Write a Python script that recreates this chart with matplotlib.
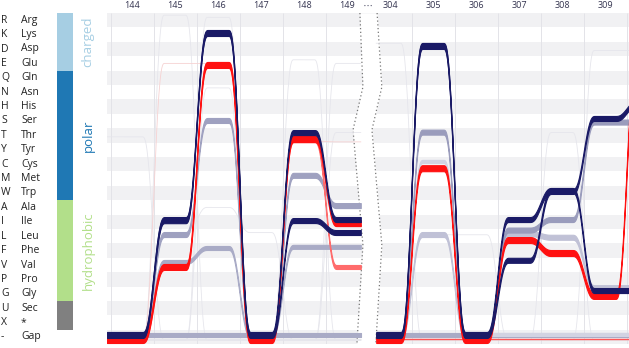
import numpy as np
import matplotlib
matplotlib.use("Agg")
import matplotlib.pyplot as plt
from matplotlib.transforms import blended_transform_factory

plt.rcParams['font.family'] = ['Open Sans', 'DejaVu Sans']

# ---------------- data ----------------
codes = ['R', 'K', 'D', 'E', 'Q', 'N', 'H', 'S', 'T', 'Y', 'C', 'M', 'W',
         'A', 'I', 'L', 'F', 'V', 'P', 'G', 'U', 'X', '-']
names = ['Arg', 'Lys', 'Asp', 'Glu', 'Gln', 'Asn', 'His', 'Ser', 'Thr', 'Tyr',
         'Cys', 'Met', 'Trp', 'Ala', 'Ile', 'Leu', 'Phe', 'Val', 'Pro', 'Gly',
         'Sec', '*', 'Gap']
cat_names = ['charged', 'polar', 'hydrophobic', '']
cat_start = [0, 4, 13, 20]
cat_size = [4, 9, 7, 2]
cat_colors = ['#a6cee3', '#1f78b4', '#b2df8a', '#808080']

left_labels = ['144', '145', '146', '147', '148', '149']
right_labels = ['304', '305', '306', '307', '308', '309']
left_cols = [0, 1, 2, 3, 4, 5]
right_cols = [6, 7, 8, 9, 10, 11, 12]   # 12 = next (hidden) column 310

# ribbon paths: row position (top edge, in rows) per column
navy_a = [21.65, 13.67, 0.68, 21.65, 7.63, 13.67]
navy_b = [21.72, 13.75, 0.75, 21.72, 13.74, 14.57]
red_a = [22.0, 16.93, 2.90, 22.0, 8.04, 13.88]
red_b = [22.05, 17.0, 2.95, 22.05, 8.20, 17.0]
gray_a = [21.72, 14.71, 6.79, 21.72, 10.6, 12.70]
gray_b = [21.72, 16.65, 15.68, 21.72, 15.6, 15.6]
gap_left = [21.72, 21.72, 21.72, 21.72, 21.72, 21.72]

navy_c = [21.65, 1.58, 21.65, 13.67, 11.65, 18.6, 18.6]
navy_d = [21.72, 1.65, 21.72, 16.5, 11.72, 6.65, 5.6]
red_c = [22.0, 10.07, 22.0, 15.06, 15.96, 18.94, 2.0]
gray_c = [21.72, 7.60, 21.72, 14.40, 13.67, 6.90, 6.9]
gray_d = [21.72, 14.71, 21.72, 14.65, 14.9, 18.4, 18.4]
gray_e = [21.72, 9.70, 21.72, 21.72, 21.72, 21.72, 21.72]
gap_right = [21.72, 21.72, 21.72, 21.72, 21.72, 21.72, 21.72]
red_gap = [22.15, 22.15, 22.15, 22.15, 22.15, 22.15, 22.15]

faint_left = [
    [8.1, 22.2, 22.2, 22.2, 22.2, 22.2],
    [22.2, -0.35, 22.2, 22.2, 22.2, 22.2],
    [22.2, 22.2, -0.2, 22.2, 22.2, 22.2],
    [22.2, 22.2, 4.7, 22.2, 22.2, 22.2],
    [22.2, 22.2, 22.2, 22.2, 2.75, 22.2],
    [22.2, 22.2, 22.2, 22.2, 22.2, 3.0],
    [22.2, 22.2, 22.2, 22.2, 22.2, 7.8],
    [22.2, 14.9, 13.0, 14.75, 22.2, 22.2],
]
pink_left = [22.2, 3.0, 3.0, 22.2, 8.4, 8.45]
faint_right = [
    [1.6, 22.2, 22.2, 22.2, 22.2, 22.2, 22.2],
    [22.2, 22.2, 22.2, 22.2, 7.8, 22.2, 22.2],
    [22.2, 22.2, 22.2, 22.2, 22.2, 2.1, 2.1],
    [22.2, 14.9, 14.9, 22.2, 22.2, 22.2, 22.2],
]

# ---------------- helpers ----------------
def path_xy(cols, vals, x0, x1, h=0.24, n=40):
    t = np.linspace(0, 1, n)
    s = t ** 3 * (t * (6 * t - 15) + 10)
    xs, ys = [], []
    for i in range(len(vals)):
        c, v = cols[i], vals[i]
        a = x0 if i == 0 else c - h
        b = c + h if i < len(vals) - 1 else x1
        xs += [a, b]
        ys += [v, v]
        if i < len(vals) - 1:
            cn, vn = cols[i + 1], vals[i + 1]
            xs += list(c + h + t[1:-1] * (cn - c - 2 * h))
            ys += list(v + (vn - v) * s[1:-1])
    return np.array(xs), np.array(ys)


W, H = 629, 348
fig = plt.figure(figsize=(W / 100, H / 100), dpi=100)
top_px, bot_px = 13.0, 344.2
ax = fig.add_axes([107 / W, (H - bot_px) / H, (W - 107) / W, (bot_px - top_px) / H])
xl = ((107 - 132) / 43, (629 - 132) / 43)
ax.set_xlim(*xl)
ax.set_ylim(22.5, -0.5)
for sp in ax.spines.values():
    sp.set_visible(False)

# stripes
for r in range(0, 23, 2):
    ax.axhspan(r - 0.5, r + 0.5, color='#f1f1f3', lw=0, zorder=0)
# vertical grid
ax.vlines([-0.5, 0.5, 1.5, 2.5, 3.5, 4.5, 6.5, 7.5, 8.5, 9.5, 10.5, 11.5],
          -0.5, 22.5, color='#e3e3e8', lw=0.7, zorder=1)

# break zone
zy = [-0.5, 4.64, 7.62, 15.6, 22.5]
zl = [5.30, 5.37, 5.14, 5.37, 5.23]
zr = [5.70, 5.81, 5.58, 5.81, 5.67]
ax.fill_betweenx(zy, zl, zr, color='white', lw=0, zorder=1.5)
ax.plot(zl, zy, ls=(0, (1, 2)), color='#777777', lw=0.9, zorder=1.6)
ax.plot(zr, zy, ls=(0, (1, 2)), color='#777777', lw=0.9, zorder=1.6)

LX0, LX1 = xl[0], 5.32
RX0, RX1 = 5.68, 12.3
PX = 1 / 14.4  # one pixel in row units


def ribbon(cols, vals, x0, x1, th_px, color, z, alpha=1.0, lw=0.8):
    x, y = path_xy(cols, vals, x0, x1)
    ax.fill_between(x, y, y + th_px * PX, color=color, lw=lw, alpha=alpha, zorder=z)


def faint(cols, vals, x0, x1, color, z=2):
    x, y = path_xy(cols, vals, x0, x1)
    ax.plot(x, y, color=color, lw=0.6, zorder=z)

for f in faint_left:
    faint(left_cols, f, LX0, LX1, '#e6e6ec')
faint(left_cols, pink_left, LX0, LX1, '#f6d2d2')
for f in faint_right:
    faint(right_cols, f, RX0, RX1, '#e6e6ec')

# left section
ribbon(left_cols, gap_left, LX0, LX1, 4, '#a9abc6', 3)
ribbon(left_cols, gray_b, LX0, LX1, 4, '#a9abc6', 3.1)
ribbon(left_cols, gray_a, LX0, LX1, 5, '#9fa1c0', 3.2)
ribbon(left_cols, red_b, LX0, LX1, 4, '#ff6b6b', 4)
ribbon(left_cols, red_a, LX0, LX1, 6, '#ff1111', 5)
ribbon(left_cols, navy_b, LX0, LX1, 5, '#1a1a66', 6)
ribbon(left_cols, navy_a, LX0, LX1, 5, '#1a1a66', 6.1)

# right section
ribbon(right_cols, red_gap, RX0, RX1, 1, '#ff5555', 2.5, lw=0.3)
ribbon(right_cols, gap_right, RX0, RX1, 4, '#a9abc6', 3)
ribbon(right_cols, gray_e, RX0, RX1, 3, '#d2d3e2', 3.05)
ribbon(right_cols, gray_d, RX0, RX1, 5, '#c0c1d6', 3.1)
ribbon(right_cols, gray_c, RX0, RX1, 5, '#9a9cbc', 3.2)
ribbon(right_cols, red_c, RX0, RX1, 6, '#ff1111', 5)
ribbon(right_cols, navy_d, RX0, RX1, 5, '#1a1a66', 6)
ribbon(right_cols, navy_c, RX0, RX1, 5, '#1a1a66', 6.1)

# top tick labels
ax.xaxis.tick_top()
ax.set_xticks(left_cols + right_cols[:-1])
ax.set_xticklabels(left_labels + right_labels, fontsize=6.5, color='#33334f')
ax.tick_params(axis='x', length=0, pad=2.5)
ax.set_yticks([])
ax.text(5.5, -0.93, '• • •', fontsize=3.5, color='#33334f', ha='center', va='center')

# left residue labels
tr = blended_transform_factory(fig.transFigure, ax.transData)
for i, (c, n) in enumerate(zip(codes, names)):
    ax.text(1 / W, i, c, transform=tr, fontsize=7.5, color='#222222',
            ha='left', va='center', clip_on=False)
    ax.text(21 / W, i, n, transform=tr, fontsize=7.5, color='#222222',
            ha='left', va='center', clip_on=False)

# category bar
cax = fig.add_axes([57 / W, (H - bot_px) / H, 16 / W, (bot_px - top_px) / H])
cax.set_ylim(22.5, -0.5)
cax.set_xlim(0, 1)
centers = [s + z / 2 - 0.5 for s, z in zip(cat_start, cat_size)]
cax.barh(centers, 1, height=cat_size, left=0, color=cat_colors, lw=0)
cax.axis('off')
for cn, cc, col in zip(cat_names, centers, cat_colors):
    if cn:
        ax.text(88 / W, cc, cn, transform=tr, rotation=90, fontsize=9.5,
                color=col, ha='center', va='center', clip_on=False)

fig.savefig('out.png', dpi=100)
